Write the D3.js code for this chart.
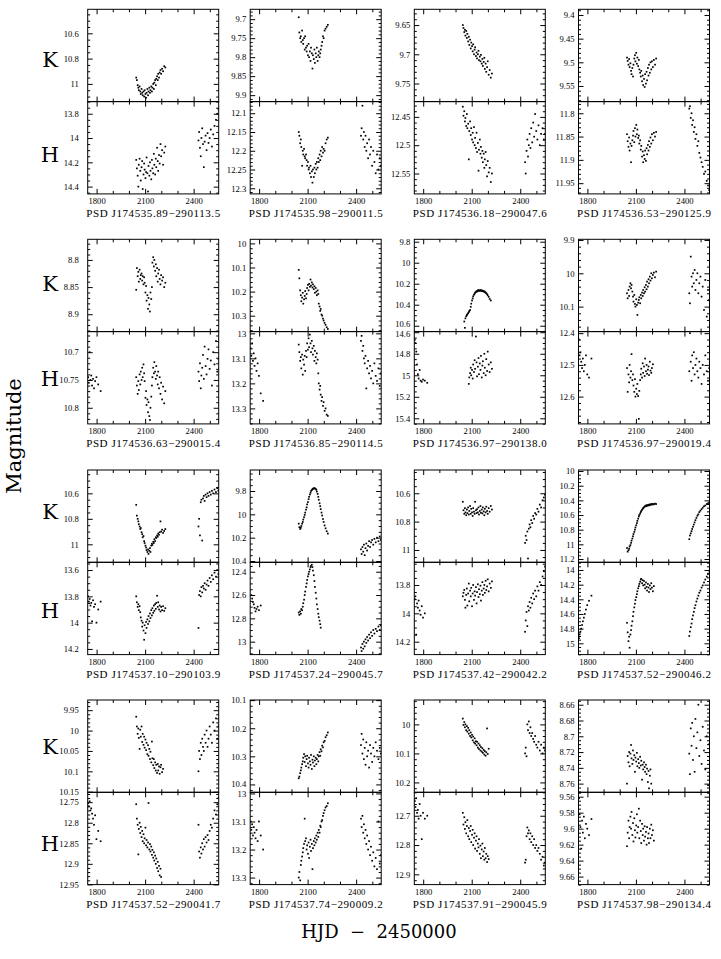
<!DOCTYPE html>
<html>
<head>
<meta charset="utf-8">
<script src="https://cdn.jsdelivr.net/npm/d3@7"></script>
<style>
  body { margin: 0; background: #fff; }
  text { fill: #000; }
</style>
</head>
<body>
<div id="chart"></div>
<script>
// ---- observation epochs (HJD - 2450000), shared by all stars ----
const EARLY = [1748,1752,1757,1762,1767,1772,1778,1784,1791,1799,1810,1825];
const MAIN = [2045,2049,2054,2058,2061,2066,2070,2073,2078,2082,
  2085,2090,2094,2097,2102,2106,2109,2114,2118,2121,
  2126,2130,2133,2138,2142,2145,2150,2154,2157,2162,
  2166,2169,2174,2178,2181,2186,2190,2195,2199,2205,
  2211,2218,2225];
const LATE = [2430,2434,2439,2444,2448,2453,2458,2463,2468,2474,
  2480,2486,2492,2499,2506,2513,2521,2529,2538,2546,2553];

const names = [
  "PSD J174535.89\u2212290113.5", "PSD J174535.98\u2212290011.5", "PSD J174536.18\u2212290047.6", "PSD J174536.53\u2212290125.9",
  "PSD J174536.63\u2212290015.4", "PSD J174536.85\u2212290114.5", "PSD J174536.97\u2212290138.0", "PSD J174536.97\u2212290019.4",
  "PSD J174537.10\u2212290103.9", "PSD J174537.24\u2212290045.7", "PSD J174537.42\u2212290042.2", "PSD J174537.52\u2212290046.2",
  "PSD J174537.52\u2212290041.7", "PSD J174537.74\u2212290009.2", "PSD J174537.91\u2212290045.9", "PSD J174537.98\u2212290134.4"
];

// magnitude ranges shown (top, bottom) and labelled tick steps
const kDomains = [[10.41,11.14],[9.674,9.917],[9.623,9.781],[9.388,9.583],
  [8.762,8.932],[9.983,10.366],[9.777,10.656],[9.898,10.175],
  [10.417,11.141],[9.62,10.411],[10.436,11.087],[9.986,11.245],
  [9.925,10.1515],[10.0995,10.428],[9.916,10.234],[8.654,8.771]];
const hDomains = [[13.70,14.46],[12.069,12.315],[12.423,12.586],[11.775,11.973],
  [10.663,10.829],[12.993,13.362],[14.594,15.452],[12.395,12.686],
  [13.541,14.243],[12.319,13.111],[13.64,14.291],[13.895,15.154],
  [12.726,12.9505],[12.996,13.325],[12.62,12.935],[9.5545,9.67]];
const kSteps = [0.2,0.05,0.05,0.05, 0.05,0.1,0.2,0.1, 0.2,0.2,0.2,0.2, 0.05,0.1,0.1,0.02];
const hSteps = [0.2,0.05,0.05,0.05, 0.05,0.1,0.2,0.1, 0.2,0.2,0.2,0.2, 0.05,0.1,0.1,0.02];

// ---- light curves: [early, main, late] magnitudes on the epochs above ----
const K01 = [null, [10.95,10.97,11.01,11.03,11.05,11.02,11.06,11.08,11.04,11.07,
  11.09,11.06,11.10,11.05,11.08,11.11,11.07,11.04,11.09,11.06,
  11.03,11.07,11.05,11.02,11.06,11.03,11.00,11.04,10.99,10.97,
  11.01,10.96,10.94,10.97,10.92,10.95,10.91,10.89,10.92,10.88,
  10.90,10.86,10.87], null];
const H01 = [null, [14.18,14.25,14.31,14.40,14.22,14.17,14.27,14.35,14.24,14.19,
  14.42,14.30,14.21,14.26,14.33,14.28,14.16,14.29,14.44,14.23,
  14.31,14.20,14.27,14.34,14.18,14.25,14.29,14.13,14.22,14.30,
  14.17,14.24,14.08,14.19,14.27,14.14,14.21,14.05,14.15,14.10,
  14.22,14.12,14.07],
  [14.02,13.95,14.08,14.15,14.00,13.92,14.05,14.24,14.03,13.98,14.10,13.96,14.04,14.00,13.93,14.07,13.97,13.90,13.85,13.80,13.76]];

const K02 = [null, [9.695,9.735,9.75,9.745,9.76,9.73,9.755,9.765,9.75,9.78,
  9.745,9.775,9.785,9.77,9.795,9.765,9.80,9.785,9.81,9.775,
  9.79,9.83,9.795,9.805,9.78,9.815,9.79,9.80,9.775,9.81,
  9.795,9.785,9.80,9.79,9.78,9.77,9.76,9.745,9.75,9.73,
  9.725,9.72,9.715], null];
const H02 = [null, [12.15,12.16,12.18,12.17,12.19,12.24,12.20,12.21,12.195,12.215,
  12.22,12.21,12.225,12.24,12.23,12.25,12.245,12.26,12.24,12.27,
  12.255,12.285,12.25,12.27,12.245,12.26,12.235,12.25,12.23,12.245,
  12.22,12.23,12.21,12.225,12.20,12.215,12.19,12.205,12.195,12.20,
  12.18,12.17,12.165],
  [12.16,12.14,12.08,12.17,12.15,12.19,12.16,12.20,12.18,12.22,12.17,12.21,12.19,12.24,12.20,12.23,12.26,12.21,12.25,12.22,12.24]];

const K03 = [null, [9.650,9.655,9.662,9.658,9.668,9.660,9.672,9.665,9.678,9.670,
  9.684,9.675,9.690,9.680,9.686,9.695,9.683,9.700,9.692,9.688,
  9.703,9.697,9.707,9.700,9.694,9.710,9.704,9.712,9.701,9.716,
  9.708,9.720,9.713,9.706,9.725,9.716,9.730,9.722,9.712,9.735,
  9.727,9.740,9.733], null];
const H03 = [null, [12.432,12.448,12.440,12.458,12.452,12.466,12.445,12.470,12.462,12.525,
  12.475,12.458,12.482,12.470,12.490,12.478,12.495,12.468,12.500,12.487,
  12.505,12.478,12.512,12.496,12.545,12.508,12.490,12.515,12.503,12.522,
  12.510,12.530,12.515,12.540,12.525,12.512,12.535,12.555,12.528,12.548,
  12.540,12.565,12.550],
  [12.53,12.55,12.51,12.49,12.52,12.50,12.48,12.505,12.47,12.495,12.46,12.485,12.445,12.475,12.49,12.465,12.50,12.48,12.47,12.49,12.48]];

const K04 = [null, [9.490,9.497,9.505,9.493,9.510,9.502,9.518,9.525,9.512,9.530,
  9.505,9.492,9.485,9.498,9.480,9.503,9.490,9.508,9.495,9.515,
  9.522,9.530,9.518,9.540,9.528,9.548,9.535,9.552,9.525,9.545,
  9.520,9.538,9.512,9.528,9.505,9.522,9.500,9.515,9.498,9.510,
  9.495,9.505,9.492], null];
const H04 = [null, [11.845,11.860,11.872,11.852,11.880,11.865,11.905,11.870,11.858,11.848,
  11.838,11.862,11.832,11.850,11.825,11.845,11.835,11.853,11.848,11.865,
  11.858,11.878,11.870,11.893,11.882,11.905,11.890,11.898,11.880,11.902,
  11.875,11.888,11.868,11.880,11.860,11.872,11.852,11.865,11.845,11.858,
  11.842,11.850,11.840],
  [11.79,11.785,11.81,11.80,11.825,11.815,11.84,11.83,11.855,11.845,11.87,11.86,11.885,11.895,11.905,11.915,11.93,11.925,11.945,11.955,11.965]];

const K05 = [null, [8.855,8.815,8.830,8.822,8.840,8.818,8.835,8.828,8.825,8.838,
  8.830,8.845,8.832,8.842,8.860,8.848,8.875,8.865,8.890,8.870,
  8.882,8.895,8.860,8.872,8.850,8.805,8.795,8.812,8.800,8.820,
  8.808,8.830,8.815,8.840,8.825,8.818,8.835,8.845,8.828,8.838,
  8.832,8.850,8.842], null];
const H05 = [[10.745,10.755,10.70,10.750,10.742,10.760,10.748,10.765,10.752,10.745,10.758,10.770],
  [10.745,10.760,10.775,10.752,10.768,10.740,10.758,10.735,10.750,10.728,
  10.745,10.722,10.738,10.752,10.782,10.770,10.795,10.785,10.808,10.790,
  10.815,10.822,10.800,10.780,10.760,10.745,10.728,10.738,10.718,10.735,
  10.748,10.725,10.742,10.758,10.735,10.765,10.745,10.775,10.755,10.785,
  10.762,10.792,10.770],
  [10.735,10.752,10.720,10.765,10.742,10.728,10.705,10.748,10.690,10.725,10.740,10.712,10.695,10.730,10.715,10.760,10.700,10.722,10.680,10.735,10.712]];

const K06 = [null, [10.110,10.145,10.195,10.215,10.240,10.225,10.205,10.250,10.232,10.218,
  10.198,10.228,10.210,10.185,10.172,10.195,10.168,10.180,10.150,10.175,
  10.162,10.183,10.170,10.190,10.178,10.205,10.185,10.200,10.215,10.195,
  10.210,10.250,10.262,10.280,10.272,10.295,10.300,10.312,10.320,10.330,
  10.338,10.348,10.355], null];
const H06 = [[13.06,13.09,13.04,13.11,13.08,13.13,13.10,13.15,13.12,13.17,13.24,13.27],
  [13.045,13.075,13.110,13.095,13.140,13.085,13.165,13.105,13.125,13.090,
  13.150,13.070,13.095,13.040,13.065,13.020,13.055,13.005,13.040,13.075,
  13.030,13.060,13.085,13.050,13.110,13.070,13.095,13.120,13.080,13.105,
  13.160,13.200,13.225,13.210,13.245,13.270,13.255,13.290,13.275,13.310,
  13.300,13.325,13.330],
  [13.03,13.01,13.07,13.05,13.10,13.12,13.09,13.22,13.14,13.11,13.16,13.13,13.18,13.15,13.20,13.12,13.17,13.19,13.14,13.21,13.16]];

const K07 = [null, [null,null,10.56,10.62,10.53,10.51,10.50,10.49,10.48,10.47,
  10.46,10.45,10.42,10.39,10.36,10.34,10.32,10.305,10.295,10.285,
  10.28,10.27,10.275,10.265,10.26,10.27,10.262,10.268,10.26,10.27,
  10.265,10.272,10.27,10.278,10.275,10.285,10.29,10.30,10.31,10.325,
  10.345,10.36,null], null];
const H07 = [[14.67,14.70,14.78,14.90,14.99,15.03,14.95,15.05,15.06,15.04,15.05,15.07],
  [null,null,null,null,null,null,null,null,null,15.08,
  15.02,14.98,14.93,15.00,14.95,15.03,14.90,14.97,14.86,14.94,
  14.64,14.88,15.01,14.92,14.84,14.99,14.89,14.95,14.82,15.02,
  14.91,14.87,14.98,14.80,14.93,15.00,14.85,14.96,14.78,14.90,
  14.97,14.88,14.94], null];

const K08 = [null, [10.060,10.075,10.050,10.068,10.040,10.030,10.045,10.035,10.055,10.070,
  10.085,10.065,10.092,10.100,10.078,10.095,10.125,10.088,10.080,10.072,
  10.090,10.065,10.075,10.058,10.068,10.050,10.060,10.042,10.055,10.035,
  10.048,10.025,10.040,10.018,10.030,10.010,10.022,10.000,10.015,10.005,
  9.998,10.012,9.995],
  [10.06,10.09,9.95,10.01,10.04,10.00,10.03,9.99,10.05,10.02,10.00,10.06,10.03,10.01,10.07,10.04,10.11,10.02,10.13,10.05,10.08]];
const H08 = [[12.42,12.47,12.46,12.49,12.51,12.48,12.52,12.50,12.47,12.53,12.54,12.48],
  [12.510,12.585,12.530,12.555,12.500,12.540,12.520,12.466,12.548,12.530,
  12.565,12.585,12.545,12.600,12.575,12.592,12.560,12.598,12.670,12.582,
  12.548,12.530,12.512,12.540,12.495,12.525,12.505,12.535,12.480,12.520,
  12.500,12.528,12.515,12.505,12.532,12.490,12.518,12.525,12.510,12.498,
  null,null,null],
  [12.52,12.40,12.49,12.55,12.47,12.51,12.46,12.53,12.50,12.48,12.52,12.54,12.49,12.51,12.56,12.50,12.53,12.47,12.52,12.55,12.51]];

const K09 = [null, [10.690,10.775,10.800,10.820,10.842,10.860,10.880,10.872,10.905,10.920,
  10.945,10.935,10.975,10.990,11.010,11.025,11.045,11.060,11.040,11.075,
  11.050,11.030,11.060,11.010,10.995,11.005,10.980,10.990,10.960,10.975,
  10.945,10.950,10.930,10.940,10.915,10.925,10.905,10.820,10.900,10.885,
  10.910,10.895,10.880],
  [10.86,10.80,10.93,10.67,10.65,10.97,10.64,10.62,10.66,10.61,10.63,10.60,10.62,10.59,10.61,10.58,10.60,10.57,10.59,10.56,10.58]];
const H09 = [[13.80,13.84,13.82,13.87,13.85,13.99,13.83,13.88,13.86,14.00,13.90,13.84],
  [13.800,13.845,13.880,13.860,13.905,13.875,13.920,13.960,13.985,14.030,
  14.000,14.060,14.130,14.020,14.080,13.995,14.040,13.975,14.010,13.950,
  13.990,13.930,13.965,13.905,13.945,13.890,13.925,13.870,13.910,13.860,
  13.895,13.850,13.795,13.880,13.845,13.900,13.870,13.915,13.880,13.905,
  13.875,13.910,13.890],
  [14.04,13.79,13.76,13.80,13.73,13.77,13.72,13.74,13.70,13.75,13.71,13.68,13.72,13.66,13.69,13.64,13.67,13.62,13.65,13.60,13.63]];

const K10 = [null, [10.080,10.110,10.125,10.115,10.100,10.080,10.065,10.045,10.025,10.005,
  9.985,9.960,9.940,9.915,9.895,9.870,9.850,9.830,9.815,9.800,
  9.792,9.785,9.780,9.778,9.776,9.778,9.782,9.790,9.805,9.825,
  9.850,9.875,9.905,9.930,9.955,9.985,10.010,10.040,10.065,10.095,
  10.120,10.145,10.165],
  [10.30,10.34,10.28,10.32,10.26,10.35,10.29,10.25,10.31,10.27,10.23,10.28,10.24,10.22,10.26,10.21,10.24,10.20,10.23,10.19,10.22]];
const H10 = [[null,12.60,12.63,12.66,12.68,12.71,12.74,12.72,12.70,12.73,12.69,null],
  [12.75,12.77,12.74,12.76,12.72,12.73,12.70,12.67,12.64,12.60,
  12.57,12.53,12.50,12.47,12.44,12.42,12.40,12.38,12.36,12.35,
  12.34,12.36,12.39,12.43,12.48,12.53,12.58,12.63,12.68,12.72,
  12.76,12.79,12.82,12.85,12.88,null,null,null,null,null,
  null,null,null],
  [13.05,13.08,13.02,13.06,13.00,13.04,12.98,13.01,12.96,12.99,12.94,12.97,12.92,12.95,12.90,12.93,12.89,12.91,12.87,12.90,12.86]];

const K11 = [null, [10.660,10.720,10.745,10.705,10.735,10.755,10.715,10.740,10.700,10.750,
  10.725,10.690,10.745,10.710,10.735,10.760,10.705,10.730,10.745,10.660,
  10.720,10.740,10.712,10.735,10.700,10.750,10.725,10.690,10.738,10.715,
  10.742,10.700,10.728,10.755,10.710,10.735,10.695,10.725,10.745,10.705,
  10.730,10.690,10.715],
  [10.95,10.90,10.93,10.87,11.06,10.85,10.82,10.84,10.79,10.81,10.76,10.78,10.74,10.75,10.71,10.73,10.68,10.70,10.65,10.63,10.61]];
const H11 = [[13.90,13.88,14.15,13.93,13.96,13.91,13.98,14.01,13.95,14.03,14.00,null],
  [13.880,13.855,13.835,13.905,13.960,13.870,13.825,13.945,13.860,13.790,
  13.915,13.840,13.880,13.820,13.950,13.860,13.800,13.905,13.845,13.875,
  13.815,13.930,13.850,13.795,13.885,13.830,13.865,13.805,13.910,13.840,
  13.780,13.870,13.825,13.800,13.855,13.770,13.835,13.810,13.760,13.845,
  13.790,13.820,13.775],
  [14.13,14.05,13.99,14.09,13.95,13.98,13.92,13.96,13.89,13.93,13.86,13.90,13.84,13.88,13.81,13.84,13.78,13.80,13.74,13.70,13.67]];

const K12 = [null, [11.050,11.100,11.080,11.060,11.030,11.010,10.980,10.950,10.920,10.890,
  10.860,10.830,10.800,10.770,10.740,10.710,10.680,10.650,10.620,10.600,
  10.580,10.560,10.545,10.530,10.515,10.505,10.495,10.485,10.478,10.470,
  10.480,10.465,10.470,10.460,10.468,10.455,10.462,10.450,10.458,10.448,
  10.455,10.445,10.450],
  [10.93,10.88,10.85,10.82,10.79,10.76,10.73,10.70,10.67,10.64,10.61,10.59,10.56,10.54,10.52,10.50,10.48,10.47,10.45,10.44,10.43]];
const H12 = [[14.93,14.88,14.84,14.80,14.75,14.70,14.65,14.60,14.54,14.48,14.42,14.35],
  [14.72,14.85,14.97,14.91,15.06,14.88,14.82,14.76,14.70,14.63,
  14.57,14.51,14.46,14.41,14.37,14.33,14.29,14.25,14.22,14.19,
  14.16,14.13,14.12,14.18,14.14,14.21,14.15,14.20,14.25,14.17,
  14.23,14.28,14.19,14.24,14.30,14.21,14.26,14.18,14.24,14.29,
  14.22,null,null],
  [14.90,14.84,14.78,14.73,14.67,14.62,14.57,14.52,14.48,14.43,14.39,14.35,14.31,14.28,14.24,14.21,14.17,14.13,14.09,14.05,14.01]];

const K13 = [null, [9.966,9.990,10.008,9.995,10.018,10.045,9.998,10.015,9.990,10.028,
  10.008,10.035,10.015,10.042,10.022,10.048,10.030,10.058,10.036,10.062,
  10.045,10.070,10.052,10.078,10.027,10.068,10.085,10.070,10.092,10.078,
  10.098,10.084,10.104,10.082,10.098,10.088,10.106,10.090,10.084,10.102,
  10.094,null,null],
  [10.10,10.05,10.07,10.03,10.06,10.02,10.04,10.05,10.01,10.03,10.00,10.04,10.02,9.99,10.01,10.03,9.98,10.00,9.97,10.02,9.99]];
const H13 = [[12.752,12.760,12.748,12.770,12.765,12.778,12.790,12.805,12.782,12.840,12.820,12.845],
  [12.755,12.790,12.805,12.877,12.815,12.800,12.825,12.810,12.835,12.820,
  12.845,12.828,12.850,12.838,12.812,12.855,12.842,12.860,12.848,12.752,
  12.865,12.852,12.870,12.858,12.878,12.866,12.885,12.872,12.892,12.880,
  12.900,12.887,12.910,12.895,12.918,12.905,12.928,12.912,12.932,null,
  null,null,null],
  [12.805,12.870,12.885,12.860,12.875,12.850,12.865,12.840,12.858,12.835,12.848,12.830,12.842,12.820,12.805,12.812,12.790,12.770,12.780,12.755,12.740]];

const K14 = [null, [10.378,10.372,10.360,10.350,10.340,10.328,10.318,10.305,10.292,10.320,
  10.300,10.335,10.310,10.298,10.325,10.340,10.305,10.318,10.330,10.295,
  10.345,10.312,10.322,10.300,10.335,10.315,10.305,10.328,10.310,10.295,
  10.318,10.300,10.285,10.298,10.275,10.282,10.262,10.268,10.250,10.245,
  10.232,10.225,10.215],
  [10.26,10.22,10.29,10.24,10.31,10.27,10.33,10.25,10.30,10.28,10.34,10.26,10.29,10.32,10.27,10.30,10.25,10.28,10.31,10.27,10.29]];
const H14 = [[13.10,13.13,13.11,13.15,13.12,13.14,13.16,13.13,13.17,13.10,13.15,13.20],
  [13.300,13.280,13.310,13.255,13.240,13.225,13.210,13.195,13.180,13.090,
  13.170,13.160,13.200,13.185,13.215,13.175,13.230,13.190,13.165,13.205,
  13.180,13.270,13.195,13.170,13.185,13.160,13.175,13.150,13.165,13.140,
  13.155,13.130,13.140,13.115,13.120,13.100,13.095,13.080,13.070,13.060,
  13.050,13.045,13.035],
  [13.09,13.12,13.08,13.14,13.11,13.16,13.13,13.18,13.15,13.20,13.17,13.22,13.19,13.24,13.21,13.26,13.23,13.27,13.10,13.25,13.22]];

const K15 = [null, [9.980,10.002,9.992,10.010,10.000,10.020,10.006,10.025,10.012,10.032,
  10.020,10.040,10.028,10.045,10.036,10.055,10.042,10.062,10.048,10.066,
  10.058,10.072,10.060,10.080,10.066,10.085,10.072,10.090,10.078,10.094,
  10.082,10.098,10.088,10.104,10.092,10.108,10.096,10.014,10.102,10.084,
  null,null,null],
  [10.10,10.08,10.11,10.00,10.02,9.99,10.03,10.01,10.04,10.03,10.05,10.06,10.04,10.07,10.08,10.06,10.09,10.07,10.10,10.08,10.09]];
const H15 = [[12.65,12.67,12.64,12.69,12.68,12.71,12.66,12.70,12.78,12.69,12.71,12.70],
  [12.690,12.730,12.705,12.745,12.722,12.760,12.735,12.715,12.770,12.742,
  12.780,12.752,12.735,12.790,12.765,12.748,12.800,12.775,12.760,12.812,
  12.785,12.770,12.820,12.795,12.808,12.780,12.830,12.802,12.845,12.815,
  12.795,12.838,12.822,12.850,12.810,12.845,12.830,12.858,12.838,12.848,
  null,null,null],
  [12.86,12.85,12.77,12.74,12.76,12.75,12.78,12.76,12.79,12.77,12.80,12.78,12.81,12.80,12.82,12.81,12.83,12.85,12.84,12.87,12.86]];

const K16 = [null, [8.760,8.725,8.733,8.720,8.738,8.722,8.711,8.728,8.735,8.718,
  8.730,8.724,8.745,8.727,8.732,8.721,8.738,8.729,8.734,8.740,
  8.726,8.737,8.731,8.755,8.736,8.742,8.733,8.739,8.745,8.736,
  8.748,8.741,8.758,8.744,8.766,8.750,8.742,8.760,null,null,
  null,null,null],
  [8.722,8.748,8.690,8.712,8.683,8.730,8.700,8.745,8.678,8.715,8.695,8.660,8.725,8.705,8.735,8.688,8.718,8.742,8.700,8.762,8.710]];
const H16 = [[9.562,9.582,9.598,9.625,9.590,9.605,9.585,9.612,9.594,9.600,9.608,9.588],
  [9.622,9.605,9.590,9.612,9.598,9.585,9.600,9.579,9.608,9.593,
  9.616,9.587,9.602,9.611,9.596,9.582,9.605,9.598,9.575,9.612,
  9.590,9.603,9.618,9.594,9.608,9.600,9.615,9.597,9.610,9.604,
  9.620,9.598,9.612,9.606,9.618,9.600,9.612,9.595,9.608,9.602,
  9.615,null,null], null];

const kSeries = [K01,K02,K03,K04,K05,K06,K07,K08,K09,K10,K11,K12,K13,K14,K15,K16];
const hSeries = [H01,H02,H03,H04,H05,H06,H07,H08,H09,H10,H11,H12,H13,H14,H15,H16];
const seasons = [EARLY, MAIN, LATE];

// ---- layout ----
const width = 721, height = 959;
const colLeft = [87.7, 250.2, 414.3, 578.5], boxW = 131;
const rowTop = [9.3, 239.3, 470, 700], boxH = 92.3;
const labelPad = [9, 4, 4, 4];
const letterDy = [[5, 7], [-1.5, 1], [-3.7, 2.3], [1.3, 5.7]];
const minorDiv = {0.2: 4, 0.1: 5, 0.05: 5, 0.02: 4};
const labelGap = 10;   // min vertical room between K-bottom and H-top labels

const svg = d3.select("#chart").append("svg")
  .attr("width", width)
  .attr("height", height);

const defs = svg.append("defs");

function points(series) {
  const out = [];
  if (!series) return out;
  series.forEach((vals, s) => {
    if (!vals) return;
    vals.forEach((m, i) => { if (m != null) out.push([seasons[s][i], m]); });
  });
  return out;
}

function yTicks(dom, step) {
  const div = minorDiv[step], ms = step / div;
  const major = [], minor = [];
  for (let k = Math.ceil(dom[0] / ms - 1e-6); k * ms <= dom[1] + 1e-6; k++) {
    const v = +(k * ms).toFixed(4);
    if (k % div === 0) major.push(v); else minor.push(v);
  }
  return {major, minor};
}

function panel(idx, band, series, dom, step) {
  const r = Math.floor(idx / 4), c = idx % 4;
  const left = colLeft[c];
  const top = rowTop[r] + (band === "H" ? boxH : 0);
  const x = d3.scaleLinear().domain([1745, 2555]).range([left, left + boxW]);
  const y = d3.scaleLinear().domain(dom).range([top, top + boxH]);

  const g = svg.append("g");
  const clipId = "clip" + idx + band;
  defs.append("clipPath").attr("id", clipId)
    .append("rect").attr("x", left).attr("y", top).attr("width", boxW).attr("height", boxH);

  // data points
  g.append("g").attr("clip-path", `url(#${clipId})`)
    .selectAll("rect")
    .data(points(series))
    .join("rect")
      .attr("x", d => x(d[0]) - 0.85)
      .attr("y", d => y(d[1]) - 0.85)
      .attr("width", 1.7)
      .attr("height", 1.7)
      .attr("fill", "#000");

  // ticks
  const t = yTicks(dom, step);
  const xMajor = [1800, 2100, 2400], xMinor = [1900, 2000, 2200, 2300, 2500];
  const strip = sel => sel.call(s => s.select(".domain").remove());

  const yLab = g.append("g").attr("transform", `translate(${left},0)`)
    .call(d3.axisLeft(y).tickValues(t.major).tickSize(-5).tickPadding(labelPad[c]).tickFormat(d => String(d)))
    .call(strip);
  g.append("g").attr("transform", `translate(${left},0)`)
    .call(d3.axisLeft(y).tickValues(t.minor).tickSize(-2.5).tickFormat(""))
    .call(strip);
  g.append("g").attr("transform", `translate(${left + boxW},0)`)
    .call(d3.axisRight(y).tickValues(t.major).tickSize(-5).tickFormat(""))
    .call(strip);
  g.append("g").attr("transform", `translate(${left + boxW},0)`)
    .call(d3.axisRight(y).tickValues(t.minor).tickSize(-2.5).tickFormat(""))
    .call(strip);

  g.append("g").attr("transform", `translate(0,${top})`)
    .call(d3.axisTop(x).tickValues(xMajor).tickSize(-5).tickFormat(""))
    .call(strip);
  g.append("g").attr("transform", `translate(0,${top})`)
    .call(d3.axisTop(x).tickValues(xMinor).tickSize(-3).tickFormat(""))
    .call(strip);
  g.append("g").attr("transform", `translate(0,${top + boxH})`)
    .call(d3.axisBottom(x).tickValues(xMajor).tickSize(-5).tickPadding(4)
      .tickFormat(band === "H" ? d3.format("d") : ""))
    .call(strip);
  g.append("g").attr("transform", `translate(0,${top + boxH})`)
    .call(d3.axisBottom(x).tickValues(xMinor).tickSize(-3).tickFormat(""))
    .call(strip);

  g.selectAll(".tick line").attr("stroke", "#000");
  g.selectAll(".tick text")
    .attr("font-family", "Liberation Serif")
    .attr("font-size", 8.6)
    .attr("fill", "#000");

  g.append("rect")
    .attr("x", left).attr("y", top)
    .attr("width", boxW).attr("height", boxH)
    .attr("fill", "none").attr("stroke", "#000").attr("stroke-width", 1);

  if (c === 0) {
    svg.append("text")
      .attr("x", 50)
      .attr("y", top + boxH / 2 + letterDy[r][band === "K" ? 0 : 1])
      .attr("text-anchor", "middle")
      .attr("dominant-baseline", "central")
      .attr("font-family", "DejaVu Serif")
      .attr("font-size", 21)
      .text(band);
  }
  return {labels: yLab.selectAll(".tick"), y, ticks: t.major};
}

names.forEach((name, i) => {
  const kp = panel(i, "K", kSeries[i], kDomains[i], kSteps[i]);
  const hp = panel(i, "H", hSeries[i], hDomains[i], hSteps[i]);

  // where the last K label and the first H label crowd each other, ease them apart
  const yk = kp.y(kp.ticks[kp.ticks.length - 1]), yh = hp.y(hp.ticks[0]);
  const short = labelGap - (yh - yk);
  if (short > 0) {
    kp.labels.filter((d, j, n) => j === n.length - 1).select("text")
      .attr("transform", `translate(0,${-short / 2})`);
    hp.labels.filter((d, j) => j === 0).select("text")
      .attr("transform", `translate(0,${short / 2})`);
  }

  const r = Math.floor(i / 4), c = i % 4;
  svg.append("text")
    .attr("x", colLeft[c] + boxW / 2)
    .attr("y", rowTop[r] + 2 * boxH + 23)
    .attr("text-anchor", "middle")
    .attr("font-family", "Liberation Serif")
    .attr("font-size", 11)
    .attr("textLength", 134)
    .attr("lengthAdjust", "spacing")
    .text(name);
});

svg.append("text")
  .attr("transform", "translate(21,436) rotate(-90)")
  .attr("text-anchor", "middle")
  .attr("font-family", "DejaVu Serif")
  .attr("font-size", 21)
  .text("Magnitude");

svg.append("text")
  .attr("x", 379)
  .attr("y", 938)
  .attr("text-anchor", "middle")
  .attr("font-family", "DejaVu Serif")
  .attr("font-size", 18)
  .style("white-space", "pre")
  .text("HJD  \u2212  2450000");
</script>
</body>
</html>
